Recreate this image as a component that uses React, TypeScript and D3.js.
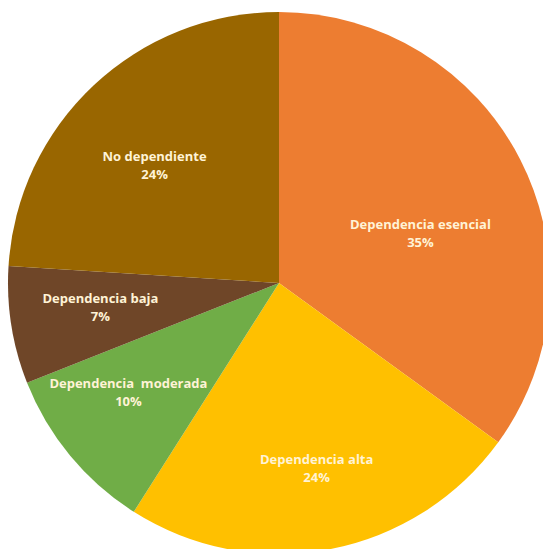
import React from "react";
import * as d3 from "d3";

const categories = [
  "Dependencia esencial",
  "Dependencia alta",
  "Dependencia  moderada",
  "Dependencia baja",
  "No dependiente",
];
const values = [35, 24, 10, 7, 24];
const colors = ["#ED7D31", "#FFC000", "#70AD47", "#6F4628", "#996600"];

// label placement tweaks: angle shift (degrees) and radius as fraction of R
const labelAngleShift = [7.4, -0.7, 3.7, 1.3, -3.3];
const labelRadiusFrac = [0.554, 0.697, 0.686, 0.665, 0.633];

const W = 543;
const H = 549;
const CX = 279;
const CY = 283;
const R = 271;

export default function App() {
  const total = d3.sum(values);
  const pie = d3
    .pie<number>()
    .sort(null)
    .value((d) => d)(values);
  const arc = d3.arc<d3.PieArcDatum<number>>().innerRadius(0).outerRadius(R);

  return (
    <svg
      width={W}
      height={H}
      style={{ position: "absolute", left: 0, top: 0, background: "#fff" }}
    >
      <g transform={`translate(${CX},${CY})`}>
        {pie.map((p, i) => (
          <path key={i} d={arc(p) || ""} fill={colors[i]} />
        ))}
        {pie.map((p, i) => {
          const mid = (p.startAngle + p.endAngle) / 2 + (labelAngleShift[i] * Math.PI) / 180;
          const r = labelRadiusFrac[i] * R;
          const x = Math.sin(mid) * r;
          const y = -Math.cos(mid) * r;
          const pct = Math.round((values[i] / total) * 100) + "%";
          return (
            <text
              key={"l" + i}
              x={x}
              y={y}
              textAnchor="middle"
              fill="#FFF3D6"
              fontFamily="'Open Sans', sans-serif"
              fontWeight={700}
              fontSize={13}
              style={{ whiteSpace: "pre" }}
            >
              <tspan x={x} dy={-4}>{categories[i]}</tspan>
              <tspan x={x} dy={18}>{pct}</tspan>
            </text>
          );
        })}
      </g>
    </svg>
  );
}
